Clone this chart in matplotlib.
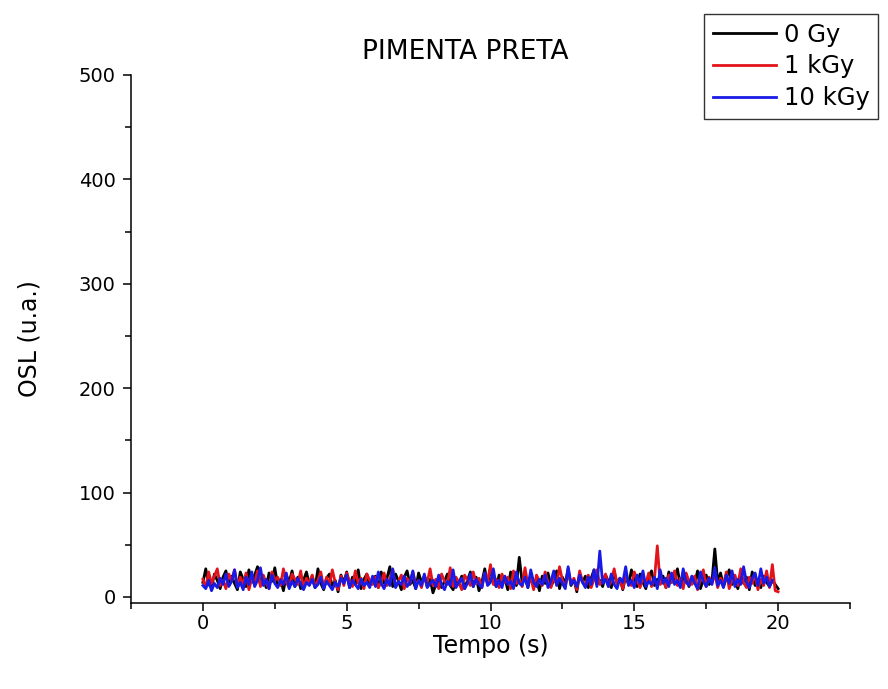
import numpy as np
import matplotlib
matplotlib.use("Agg")
import matplotlib.pyplot as plt
from matplotlib.ticker import MultipleLocator

plt.rcParams['font.family'] = ['DejaVu Sans']

title = "PIMENTA PRETA"
xlabel = "Tempo (s)"
ylabel = "OSL (u.a.)"
labels = ["0 Gy", "1 kGy", "10 kGy"]
colors = ["#000000", "#e3131b", "#1a1ae6"]

dt = 0.1
osl_0gy = [14, 27, 12, 9, 22, 16, 8, 19, 25, 11, 20, 13, 7, 24, 17, 10, 26, 14, 21, 29,
           12, 18, 9, 23, 15, 28, 11, 17, 6, 21, 14, 25, 10, 19, 8, 16, 24, 12, 20, 9,
           27, 13, 7, 18, 22, 10, 16, 5, 21, 14, 24, 9, 19, 12, 26, 8, 17, 22, 11, 15,
           20, 9, 24, 13, 18, 29, 10, 22, 15, 7, 19, 25, 12, 16, 8, 23, 14, 20, 10, 17,
           4, 12, 18, 9, 15, 22, 11, 7, 17, 13, 20, 8, 16, 24, 10, 19, 6, 14, 27, 12,
           28, 15, 10, 21, 13, 18, 7, 24, 16, 11, 38, 14, 19, 9, 22, 12, 17, 6, 20, 13,
           23, 10, 16, 25, 8, 19, 13, 27, 11, 17, 5, 22, 14, 20, 9, 18, 26, 12, 16, 10,
           21, 15, 9, 24, 13, 18, 7, 20, 12, 26, 16, 10, 22, 14, 8, 19, 25, 11, 17, 13,
           20, 9, 24, 14, 18, 27, 11, 16, 22, 10, 19, 13, 25, 8, 17, 21, 12, 15, 46, 14,
           23, 10, 18, 26, 12, 16, 8, 21, 13, 19, 7, 24, 11, 17, 9, 20, 14, 10, 16, 12,
           8]
osl_1kgy = [17, 9, 24, 13, 20, 27, 11, 16, 8, 22, 15, 26, 10, 19, 12, 23, 7, 18, 14, 25,
            10, 21, 13, 8, 24, 16, 19, 11, 27, 14, 9, 22, 17, 12, 25, 8, 18, 13, 21, 10,
            16, 24, 9, 19, 12, 26, 14, 7, 20, 11, 23, 15, 10, 25, 13, 18, 8, 22, 16, 12,
            19, 9, 14, 23, 11, 17, 26, 10, 15, 21, 8, 18, 13, 24, 12, 16, 9, 20, 14, 27,
            11, 17, 8, 22, 15, 12, 28, 10, 19, 14, 7, 21, 16, 11, 24, 13, 18, 9, 23, 15,
            31, 12, 17, 9, 22, 14, 19, 8, 25, 13, 16, 10, 28, 12, 18, 7, 21, 15, 11, 24,
            14, 9, 20, 12, 29, 16, 10, 23, 13, 18, 7, 25, 15, 11, 21, 9, 17, 26, 12, 16,
            22, 10, 15, 27, 12, 18, 8, 21, 14, 11, 24, 16, 9, 19, 13, 23, 10, 17, 49, 12,
            16, 9, 21, 14, 25, 11, 18, 8, 23, 15, 12, 20, 7, 17, 26, 10, 19, 13, 22, 9,
            18, 12, 24, 8, 16, 21, 11, 27, 14, 9, 19, 13, 22, 7, 17, 11, 25, 9, 31, 6,
            5]
osl_10kgy = [11, 8, 16, 6, 13, 9, 18, 12, 22, 10, 15, 26, 9, 14, 7, 19, 12, 24, 10, 16,
             28, 11, 17, 8, 21, 13, 9, 16, 12, 23, 8, 15, 10, 18, 13, 7, 14, 11, 17, 9,
             12, 19, 8, 15, 11, 7, 14, 10, 18, 13, 21, 9, 16, 12, 8, 17, 11, 14, 9, 20,
             10, 24, 13, 8, 17, 11, 27, 9, 15, 12, 20, 10, 14, 25, 8, 16, 11, 22, 9, 13,
             16, 10, 21, 12, 7, 15, 11, 26, 9, 14, 18, 8, 13, 22, 10, 17, 12, 9, 23, 11,
             14, 27, 10, 16, 9, 20, 12, 15, 8, 24, 13, 11, 19, 9, 26, 14, 10, 17, 12, 21,
             9, 15, 25, 11, 18, 13, 8, 29, 12, 16, 10, 21, 14, 9, 19, 12, 26, 10, 44, 13,
             17, 10, 22, 12, 8, 18, 14, 29, 11, 16, 9, 21, 13, 25, 10, 15, 12, 19, 8, 26,
             13, 18, 10, 23, 12, 16, 9, 27, 14, 11, 20, 13, 8, 24, 15, 10, 18, 12, 28, 11,
             16, 9, 21, 13, 25, 10, 17, 12, 29, 14, 9, 18, 23, 11, 27, 13, 19, 10, 16]

series = [osl_0gy, osl_1kgy, osl_10kgy]

W, H = 888, 689
fig = plt.figure(figsize=(W / 100, H / 100), dpi=100)
ax = fig.add_axes([131 / W, 1 - 603 / H, (850 - 131) / W, (603 - 75) / H])

handles = []
for vals, lab, c in zip(series, labels, colors):
    t = np.arange(len(vals)) * dt
    h, = ax.plot(t, vals, color=c, lw=2.0, label=lab)
    handles.append(h)

ax.set_xlim(-2.5, 22.5)
ax.set_ylim(-5.75, 500)
ax.xaxis.set_major_locator(MultipleLocator(5))
ax.xaxis.set_minor_locator(MultipleLocator(2.5))
ax.yaxis.set_major_locator(MultipleLocator(100))
ax.yaxis.set_minor_locator(MultipleLocator(50))

for s in ['top', 'right']:
    ax.spines[s].set_visible(False)
for s in ['left', 'bottom']:
    ax.spines[s].set_linewidth(1.1)

ax.tick_params(which='major', direction='out', length=6, width=1.1, labelsize=14, pad=2)
ax.tick_params(which='minor', direction='out', length=4, width=1.1)
ax.tick_params(axis='y', which='major', pad=5)

ax.set_xlabel(xlabel, fontsize=17)
ax.set_ylabel(ylabel, fontsize=17)
ax.xaxis.set_label_coords(0.5, (603 - 634) / 528)
ax.yaxis.set_label_coords((42 - 131) / 719, 0.5)

fig.text(465 / W, 1 - 52 / H, title, ha='center', va='center', fontsize=19)

leg = fig.legend(handles=handles, labels=labels, loc='upper left',
                 bbox_to_anchor=(704 / W, 1 - 14 / H), fontsize=17.5,
                 handlelength=2.6, handletextpad=0.33, labelspacing=0.32,
                 borderpad=0.35, borderaxespad=0, fancybox=False,
                 framealpha=1)
leg.get_frame().set_edgecolor('#333333')
leg.get_frame().set_linewidth(1.0)

fig.savefig("out.png", dpi=100)
